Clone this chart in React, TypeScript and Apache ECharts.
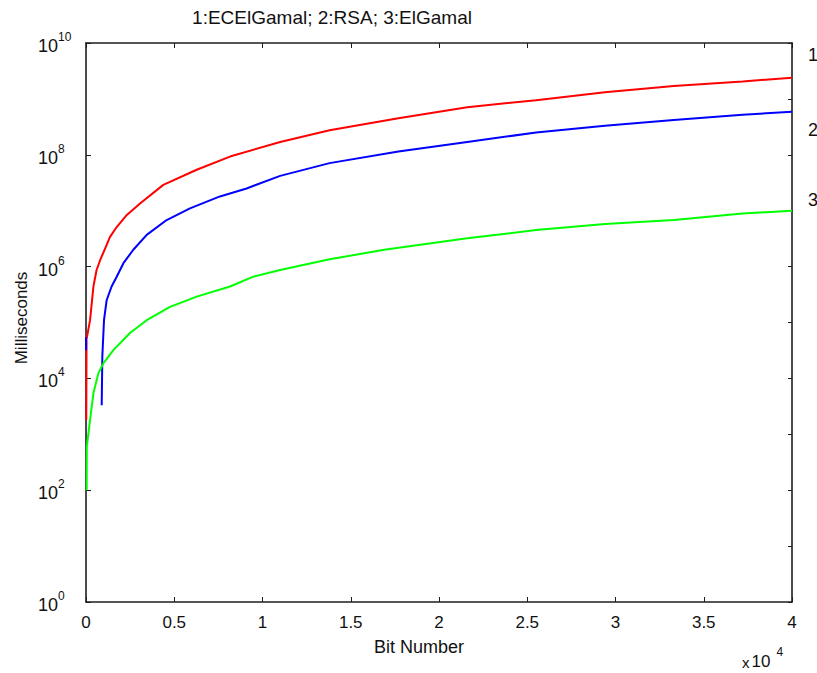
import React, { useEffect, useRef } from "react";
import * as echarts from "echarts";

const titleText = "1:ECElGamal; 2:RSA; 3:ElGamal";
const xName = "Bit Number";
const yName = "Milliseconds";
const xTickLabels = ["0", "0.5", "1", "1.5", "2", "2.5", "3", "3.5", "4"];
const xScaleExp = "4";
const curveLabels = ["1", "2", "3"];

// 1: ECElGamal (red)
const redBits = [15, 30, 230, 420, 600, 800, 1080, 1360, 1740, 2300, 3060, 4380, 6270, 8160, 11000, 13800, 17700, 21600, 25500, 29400, 33300, 37200, 40000];
const redMs = [1.8e3, 5.0e4, 1.1e5, 4.4e5, 8.7e5, 1.3e6, 2.1e6, 3.4e6, 5.1e6, 8.3e6, 1.35e7, 2.9e7, 5.4e7, 9.3e7, 1.7e8, 2.75e8, 4.5e8, 7.1e8, 9.5e8, 1.32e9, 1.7e9, 2.05e9, 2.4e9];

// 2: RSA (blue) — short piece at the start, a gap, then the curve
const blueBits = [0, 5, 450, 890, 925, 1020, 1170, 1450, 1740, 2120, 2680, 3440, 4570, 5890, 7590, 9100, 11000, 13800, 17700, 21600, 25500, 29400, 33300, 37200, 40000];
const blueMs = [5.5e4, 3.2e4, null, 3.3e3, 2.45e4, 1.1e5, 2.5e5, 4.4e5, 6.6e5, 1.15e6, 2.0e6, 3.7e6, 6.8e6, 1.1e7, 1.8e7, 2.5e7, 4.2e7, 7.1e7, 1.15e8, 1.7e8, 2.5e8, 3.3e8, 4.2e8, 5.2e8, 5.9e8];

// 3: ElGamal (green)
const greenBits = [38, 45, 230, 420, 700, 980, 1550, 2490, 3440, 4760, 6270, 8160, 9480, 11000, 13800, 16900, 21600, 25500, 29400, 33300, 37200, 40000];
const greenMs = [100, 600, 1.8e3, 5.4e3, 1.23e4, 1.86e4, 3.2e4, 6.5e4, 1.1e5, 1.9e5, 2.9e5, 4.4e5, 6.6e5, 8.7e5, 1.35e6, 2.0e6, 3.2e6, 4.5e6, 5.8e6, 6.8e6, 8.9e6, 1.0e7];

const FONT = "'Liberation Sans', Arial, Helvetica, sans-serif";
const AXIS_COLOR = "#1e1e1e";

function pairs(xs: number[], ys: (number | null)[]) {
  return xs.map((x, i) => [x, ys[i] == null ? "-" : ys[i]]);
}

export default function App() {
  const ref = useRef<HTMLDivElement>(null);
  useEffect(() => {
    if (!ref.current) return;
    const chart = echarts.init(ref.current, null, { renderer: "svg" });
    const gridLeft = 86, gridTop = 43, gridW = 706, gridH = 559;
    const lineStyle = { color: AXIS_COLOR, width: 1.6 };
    const curve = (name: string, data: any[], color: string) => ({
      type: "line", name, data, showSymbol: false,
      lineStyle: { color, width: 2 }, itemStyle: { color },
      connectNulls: false, xAxisIndex: 0, yAxisIndex: 0,
    });
    chart.setOption({
      animation: false,
      backgroundColor: "#ffffff",
      grid: { left: gridLeft, top: gridTop, width: gridW, height: gridH, containLabel: false },
      xAxis: [
        {
          type: "value", min: 0, max: 40000, interval: 5000, position: "bottom",
          axisLine: { show: true, onZero: false, lineStyle },
          axisTick: { show: true, inside: true, length: 5, lineStyle: { color: AXIS_COLOR, width: 1 } },
          axisLabel: {
            show: true, margin: 12, color: "#111", fontSize: 17, fontFamily: FONT,
            formatter: (v: number) => xTickLabels[Math.round(v / 5000)] ?? "",
          },
          splitLine: { show: false },
        },
        {
          type: "value", min: 0, max: 40000, interval: 5000, position: "top",
          axisLine: { show: true, onZero: false, lineStyle },
          axisTick: { show: true, inside: true, length: 5, lineStyle: { color: AXIS_COLOR, width: 1 } },
          axisLabel: { show: false },
          splitLine: { show: false },
        },
      ],
      yAxis: [
        {
          type: "log", logBase: 10, min: 1, max: 1e10, interval: 2, position: "left",
          axisLine: { show: true, onZero: false, lineStyle },
          axisTick: { show: true, inside: true, length: 5, lineStyle: { color: AXIS_COLOR, width: 1 } },
          axisLabel: {
            show: true, margin: 48, align: "left", color: "#111", fontFamily: FONT,
            formatter: (v: number) => `{b|10}{s|${Math.round(Math.log10(v))}}`,
            rich: {
              b: { fontSize: 18, lineHeight: 24, verticalAlign: "bottom", fontFamily: FONT, color: "#111" },
              s: { fontSize: 12, lineHeight: 10, verticalAlign: "top", fontFamily: FONT, color: "#111" },
            },
          },
          splitLine: { show: false },
        },
        {
          type: "log", logBase: 10, min: 1, max: 1e10, interval: 1, position: "right",
          axisLine: { show: true, onZero: false, lineStyle },
          axisTick: { show: true, inside: true, length: 4, lineStyle: { color: AXIS_COLOR, width: 1 } },
          axisLabel: { show: false },
          splitLine: { show: false },
        },
      ],
      series: [
        curve("ECElGamal", pairs(redBits, redMs), "#ff0000"),
        curve("RSA", pairs(blueBits, blueMs), "#0000ff"),
        curve("ElGamal", pairs(greenBits, greenMs), "#00ff00"),
      ],
      graphic: [
        {
          type: "text", x: 332, y: 17,
          style: { text: titleText, fill: "#111", font: `19px ${FONT}`, textAlign: "center", textVerticalAlign: "middle" },
        },
        {
          type: "text", x: 419, y: 647,
          style: { text: xName, fill: "#111", font: `18px ${FONT}`, textAlign: "center", textVerticalAlign: "middle" },
        },
        {
          type: "text", x: 21, y: 318, rotation: Math.PI / 2,
          style: { text: yName, fill: "#111", font: `17px ${FONT}`, textAlign: "center", textVerticalAlign: "middle" },
        },
        {
          type: "text", x: 742, y: 658,
          style: {
            text: `{x|x}{b|10}{s|${xScaleExp}}`, fill: "#111", textAlign: "left", textVerticalAlign: "middle",
            rich: {
              x: { fontSize: 15, lineHeight: 24, verticalAlign: "bottom", fontFamily: FONT, padding: [0, 2, 0, 0] },
              b: { fontSize: 17, lineHeight: 24, verticalAlign: "bottom", fontFamily: FONT },
              s: { fontSize: 12, lineHeight: 10, verticalAlign: "top", fontFamily: FONT, padding: [0, 0, 0, 6] },
            },
          },
        },
        {
          type: "text", x: 808, y: 55,
          style: { text: curveLabels[0], fill: "#111", font: `18px ${FONT}`, textAlign: "left", textVerticalAlign: "middle" },
        },
        {
          type: "text", x: 808, y: 130,
          style: { text: curveLabels[1], fill: "#111", font: `18px ${FONT}`, textAlign: "left", textVerticalAlign: "middle" },
        },
        {
          type: "text", x: 808, y: 200,
          style: { text: curveLabels[2], fill: "#111", font: `18px ${FONT}`, textAlign: "left", textVerticalAlign: "middle" },
        },
      ],
    });
    return () => chart.dispose();
  }, []);
  return (
    <div
      ref={ref}
      style={{ position: "fixed", left: 0, top: 0, width: 817, height: 673, background: "#fff" }}
    />
  );
}
